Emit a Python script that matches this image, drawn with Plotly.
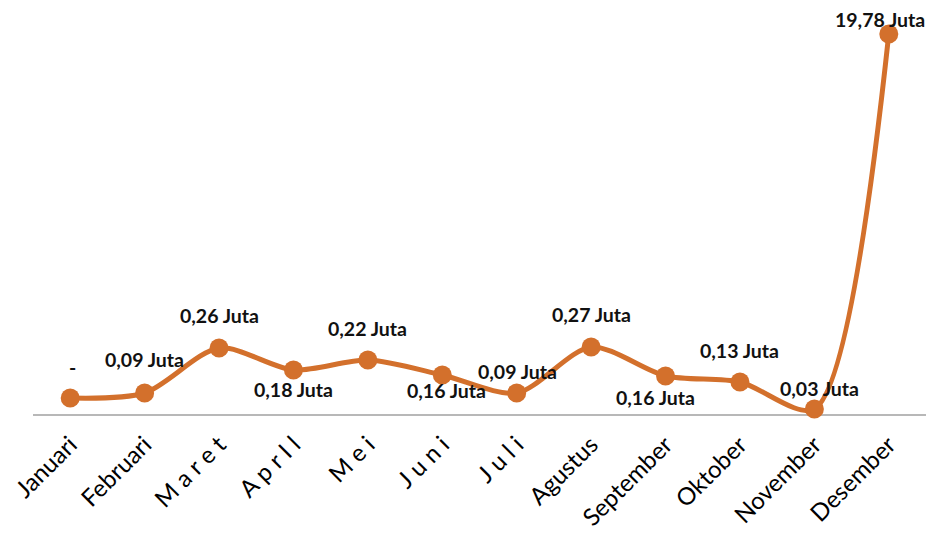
import plotly.graph_objects as go

# Data
bulan = ["Januari", "Februari", "M a r e t", "A p r I l", "M e i", "J u n i",
         "J u l i", "Agustus", "September", "Oktober", "November", "Desember"]
# tinggi titik seperti tergambar pada grafik asli
tinggi = [17, 22, 67, 45, 55, 40, 22, 68, 39, 33, 6, 381]
label = ["-", "0,09 Juta", "0,26 Juta", "0,18 Juta", "0,22 Juta", "0,16 Juta",
         "0,09 Juta", "0,27 Juta", "0,16 Juta", "0,13 Juta", "0,03 Juta", "19,78 Juta"]

# geser label (px) - styling saja
geser_y = [31, 34, 33, -19, 32, -15, 22, 33, -21, 32, 21, 15]
geser_x = [2, 0, 0, 0, 0, 4, 1, 0, -10, 0, 5, -9]

warna = "#D3702C"

fig = go.Figure()

fig.add_trace(go.Scatter(
    x=list(range(len(bulan))),
    y=tinggi,
    mode="lines+markers",
    line=dict(color=warna, width=5, shape="spline", smoothing=0.8),
    marker=dict(color=warna, size=19),
    cliponaxis=False,
    hoverinfo="skip",
))

for i, (t, v) in enumerate(zip(label, tinggi)):
    fig.add_annotation(
        x=i, y=v, text="<b>%s</b>" % t, showarrow=False,
        xshift=geser_x[i], yshift=geser_y[i],
        font=dict(family="Lato", size=19.5, color="#111111"),
    )

# garis sumbu
fig.add_shape(type="line", xref="paper", yref="y", x0=0, x1=1, y0=0, y1=0,
              line=dict(color="#A0A0A0", width=1.5), layer="below")

# halaman punya margin body 8px, jadi figur dibuat sedikit lebih kecil
fig.update_layout(
    width=928, height=527,
    margin=dict(l=25, r=10, t=2, b=110, autoexpand=False),
    paper_bgcolor="white", plot_bgcolor="white",
    showlegend=False,
    xaxis=dict(
        tickmode="array", tickvals=list(range(len(bulan))), ticktext=bulan,
        range=[-0.5, 11.5], tickangle=-45, showgrid=False, zeroline=False,
        showline=False, ticks="", automargin=False,
        tickfont=dict(family="Lato", size=24, color="#000000"),
    ),
    yaxis=dict(range=[-10, 405], visible=False, automargin=False),
)

fig.write_html("out.html")
